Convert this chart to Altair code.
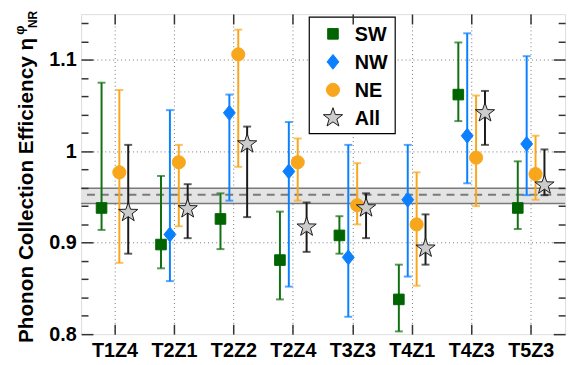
import altair as alt
import pandas as pd

categories = ["T1Z4", "T2Z1", "T2Z2", "T2Z4", "T3Z3", "T4Z1", "T4Z3", "T5Z3"]
series_names = ["SW", "NW", "NE", "All"]

sw_val = [0.938, 0.898, 0.926, 0.881, 0.908, 0.838, 1.062, 0.938]
sw_lo = [0.914, 0.872, 0.893, 0.838, 0.888, 0.803, 1.033, 0.915]
sw_hi = [1.075, 0.973, 0.954, 0.934, 0.929, 0.876, 1.119, 0.989]

nw_val = [None, 0.909, 1.042, 0.978, 0.884, 0.947, 1.017, 1.008]
nw_lo = [None, 0.858, 0.946, 0.852, 0.819, 0.863, 0.965, 0.952]
nw_hi = [None, 1.045, 1.062, 1.032, 1.007, 1.007, 1.129, 1.104]

ne_val = [0.977, 0.988, 1.106, 0.988, 0.941, 0.920, 0.993, 0.975]
ne_lo = [0.878, 0.918, 0.983, 0.946, 0.920, 0.853, 0.940, 0.947]
ne_hi = [1.067, 1.007, 1.133, 1.014, 0.987, 0.977, 1.061, 1.017]

all_val = [0.933, 0.937, 1.008, 0.917, 0.938, 0.894, 1.042, 0.963]
all_lo = [0.888, 0.905, 0.928, 0.890, 0.905, 0.876, 1.007, 0.952]
all_hi = [1.007, 0.964, 1.027, 0.944, 0.954, 0.931, 1.066, 1.002]

band_lo = [0.943]
band_hi = [0.9596]
band_mean = [0.9524]

y_major = [0.8, 0.9, 1.0, 1.1]
y_minor = [0.82, 0.84, 0.86, 0.88, 0.92, 0.94, 0.96, 0.98, 1.02, 1.04, 1.06,
           1.08, 1.12, 1.14]

title_main = ["Phonon Collection Efficiency η"]
title_sup = ["φ"]
title_sub = ["NR"]

rows = []
for name, vals, los, his in [("SW", sw_val, sw_lo, sw_hi), ("NW", nw_val, nw_lo, nw_hi),
                             ("NE", ne_val, ne_lo, ne_hi), ("All", all_val, all_lo, all_hi)]:
    for c, v, lo, hi in zip(categories, vals, los, his):
        if v is None:
            continue
        rows.append({"cat": c, "series": name, "val": v, "lo": lo, "hi": hi})
df = pd.DataFrame(rows)
band_df = pd.DataFrame({"lo": band_lo, "hi": band_hi, "mean": band_mean})
leg_df = pd.DataFrame({"series": series_names})

FONT = "Liberation Sans"
W, H = 490, 324
AX = "#333333"

yscale = alt.Scale(domain=[0.8, 1.15], nice=False, zero=False)
xscale = alt.Scale(domain=categories, paddingInner=0, paddingOuter=0.07)
xoff_scale = alt.Scale(domain=series_names, range=[12, 48], paddingInner=0, paddingOuter=0)
col_scale = alt.Scale(domain=series_names, range=["#117011", "#0a80ff", "#f8a61c", "#1a1a1a"])
fill_scale = alt.Scale(domain=series_names, range=["#006400", "#0a80ff", "#f8a61c", "#cccccc"])
stroke_scale = alt.Scale(domain=series_names, range=["#006400", "#0a80ff", "#f8a61c", "#1a1a1a"])
star = ("M0,-1L0.235,-0.324L0.951,-0.309L0.38,0.124L0.588,0.809L0,0.4"
        "L-0.588,0.809L-0.38,0.124L-0.951,-0.309L-0.235,-0.324Z")
diamond = "M0,-1L0.8,0L0,1L-0.8,0Z"
shape_scale = alt.Scale(domain=series_names, range=["square", diamond, "circle", star])
size_scale = alt.Scale(type="ordinal", domain=series_names, range=[115, 225, 177, 420])
leg_y_scale = alt.Scale(type="point", domain=series_names, range=[20, 105], padding=0)

y_grid = alt.Axis(values=[0.9, 1.0, 1.1], grid=True, gridDash=[1, 3], gridColor="#777777",
                  gridWidth=1, ticks=False, labels=False, domain=False, title=None)
y_major_left = alt.Axis(values=y_major, orient="left", offset=-12, tickSize=12, tickWidth=1.5,
                        tickColor=AX, domain=False, grid=False, labelFont=FONT, labelFontSize=20,
                        labelFontWeight="bold", labelColor="black", labelPadding=5, format="~g",
                        title=None, zindex=1)
y_minor_left = alt.Axis(values=y_minor, orient="left", offset=-7, tickSize=7, tickWidth=1.5,
                        tickColor=AX, labels=False, domain=False, grid=False, title=None, zindex=1)
y_major_right = alt.Axis(values=y_major, orient="right", offset=-12, tickSize=12, tickWidth=1.5,
                         tickColor=AX, labels=False, domain=False, grid=False, title=None, zindex=1)
y_minor_right = alt.Axis(values=y_minor, orient="right", offset=-7, tickSize=7, tickWidth=1.5,
                         tickColor=AX, labels=False, domain=False, grid=False, title=None, zindex=1)
x_bottom = alt.Axis(orient="bottom", offset=-10, tickSize=10, tickWidth=1.5, tickColor=AX,
                    domain=False, grid=False, labelFont=FONT, labelFontSize=20,
                    labelFontWeight="bold", labelColor="black", labelPadding=7, labelAngle=0,
                    title=None, zindex=1)
x_top = alt.Axis(orient="top", offset=-10, tickSize=10, tickWidth=1.5, tickColor=AX,
                 labels=False, domain=False, grid=False, title=None, zindex=1)
x_grid = alt.Axis(orient="bottom", grid=True, gridDash=[1, 3], gridColor="#777777", gridWidth=1,
                  ticks=False, labels=False, domain=False, title=None)

base = alt.Chart(df)
X = lambda ax: alt.X("cat:N", scale=xscale, sort=categories, axis=ax)
XO = alt.XOffset("series:N", scale=xoff_scale, sort=series_names)
C = alt.Color("series:N", scale=col_scale, legend=None)
SH = alt.Shape("series:N", scale=shape_scale, legend=None)
FI = alt.Fill("series:N", scale=fill_scale, legend=None)
ST = alt.Stroke("series:N", scale=stroke_scale, legend=None)
SZ = alt.Size("series:N", scale=size_scale, legend=None)

band = alt.Chart(band_df).mark_rect(color="#e4e4e4").encode(
    y=alt.Y("lo:Q", scale=yscale, axis=y_grid), y2="hi:Q")
edges = alt.Chart(band_df).transform_fold(["lo", "hi"]).mark_rule(
    color="#7a7a7a", strokeWidth=1.5).encode(y=alt.Y("value:Q", scale=yscale, axis=None))
mean = alt.Chart(band_df).mark_rule(color="#7a7a7a", strokeWidth=2, strokeDash=[8, 6]).encode(
    y=alt.Y("mean:Q", scale=yscale, axis=None))

bars = base.mark_rule(strokeWidth=2).encode(
    x=X(x_bottom), xOffset=XO, y=alt.Y("lo:Q", scale=yscale, axis=y_major_left), y2="hi:Q", color=C)
caps_lo = base.mark_tick(size=8, thickness=2).encode(
    x=X(x_top), xOffset=XO, y=alt.Y("lo:Q", scale=yscale, axis=y_minor_left), color=C)
caps_hi = base.mark_tick(size=8, thickness=2).encode(
    x=X(x_grid), xOffset=XO, y=alt.Y("hi:Q", scale=yscale, axis=y_major_right), color=C)
pts = base.mark_point(filled=True, opacity=1, strokeWidth=1).encode(
    x=X(None), xOffset=XO, y=alt.Y("val:Q", scale=yscale, axis=y_minor_right),
    shape=SH, fill=FI, stroke=ST, size=SZ)

# legend (box, symbols, labels)
leg_box = alt.Chart(pd.DataFrame({"k": [0]})).mark_rect(
    fill="white", stroke="black", strokeWidth=1.2).encode(
    x=alt.value(231), x2=alt.value(318), y=alt.value(3), y2=alt.value(121))
leg_sym = alt.Chart(leg_df).mark_point(filled=True, opacity=1, strokeWidth=1).encode(
    x=alt.value(255), y=alt.Y("series:N", scale=leg_y_scale, axis=None, sort=series_names),
    shape=SH, fill=FI, stroke=ST, size=SZ)
leg_txt = alt.Chart(leg_df).mark_text(
    align="left", baseline="middle", font=FONT, fontSize=20, fontWeight="bold",
    color="black", dy=1).encode(
    x=alt.value(277), y=alt.Y("series:N", scale=leg_y_scale, axis=None, sort=series_names),
    text="series:N")

t_main = alt.Chart(pd.DataFrame({"t": title_main})).mark_text(
    angle=270, align="left", baseline="alphabetic", font=FONT, fontSize=21,
    fontWeight="bold", color="black").encode(x=alt.value(-49), y=alt.value(333), text="t:N")
t_sup = alt.Chart(pd.DataFrame({"t": title_sup})).mark_text(
    angle=270, align="left", baseline="alphabetic", font=FONT, fontSize=13,
    fontWeight="bold", color="black").encode(x=alt.value(-58), y=alt.value(21), text="t:N")
t_sub = alt.Chart(pd.DataFrame({"t": title_sub})).mark_text(
    angle=270, align="left", baseline="alphabetic", font=FONT, fontSize=12,
    fontWeight="bold", color="black").encode(x=alt.value(-45), y=alt.value(14), text="t:N")

chart = alt.layer(band, edges, mean, bars, caps_lo, caps_hi, pts, leg_box, leg_sym, leg_txt,
                  t_main, t_sup, t_sub).resolve_axis(
    x="independent", y="independent").resolve_scale(y="independent").properties(
    width=W, height=H, autosize=alt.AutoSizeParams(type="none"),
    padding={"left": 74, "top": 4, "right": 8, "bottom": 26}).configure_view(
    stroke=AX, strokeWidth=1.5).configure(background="white")

chart.save("out.html", embed_options={"renderer": "svg", "actions": False})
